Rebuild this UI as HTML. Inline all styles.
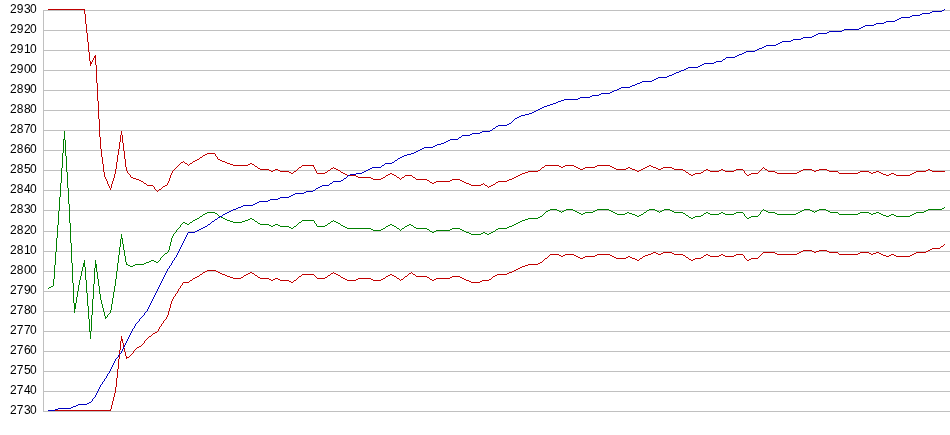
<!DOCTYPE html>
<html><head><meta charset="utf-8"><title>chart</title>
<style>
html,body{margin:0;padding:0;background:#fff;}
svg{display:block;}
text{font-family:"Liberation Sans",sans-serif;font-size:12px;fill:#000;letter-spacing:0px;}
path{fill:none;stroke-width:1;shape-rendering:crispEdges;}
</style></head><body>
<svg width="950" height="435" viewBox="0 0 950 435">
<rect width="950" height="435" fill="#fff"/>
<path stroke="#c0c0c0" d="M43 10.5H950M43 30.5H950M43 50.5H950M43 70.5H950M43 90.5H950M43 110.5H950M43 130.5H950M43 150.5H950M43 170.5H950M43 190.5H950M43 210.5H950M43 231.5H950M43 251.5H950M43 271.5H950M43 291.5H950M43 311.5H950M43 331.5H950M43 351.5H950M43 371.5H950M43 391.5H950M43 411.5H950M43.5 10V412"/>
<g style="filter:grayscale(1)"><text x="10.0 16.8 23.9 30.0" y="13.4">2930</text><text x="10.0 16.8 23.9 30.0" y="33.4">2920</text><text x="10.0 16.8 23.9 30.0" y="53.4">2910</text><text x="10.0 16.8 23.9 30.0" y="73.4">2900</text><text x="10.0 16.8 23.9 30.0" y="93.4">2890</text><text x="10.0 16.8 23.9 30.0" y="113.4">2880</text><text x="10.0 16.8 23.9 30.0" y="133.4">2870</text><text x="10.0 16.8 23.9 30.0" y="153.4">2860</text><text x="10.0 16.8 23.9 30.0" y="173.4">2850</text><text x="10.0 16.8 23.9 30.0" y="193.4">2840</text><text x="10.0 16.8 23.9 30.0" y="213.4">2830</text><text x="10.0 16.8 23.9 30.0" y="234.4">2820</text><text x="10.0 16.8 23.9 30.0" y="254.4">2810</text><text x="10.0 16.8 23.9 30.0" y="274.4">2800</text><text x="10.0 16.8 23.9 30.0" y="294.4">2790</text><text x="10.0 16.8 23.9 30.0" y="314.4">2780</text><text x="10.0 16.8 23.9 30.0" y="334.4">2770</text><text x="10.0 16.8 23.9 30.0" y="354.4">2760</text><text x="10.0 16.8 23.9 30.0" y="374.4">2750</text><text x="10.0 16.8 23.9 30.0" y="394.4">2740</text><text x="10.0 16.8 23.9 30.0" y="414.4">2730</text></g>
<path stroke="#008000" d="M200 216.5h2M219 216.5h2M540 216.5h2M637 216.5h2M695 216.5h6M751 216.5h7M886 216.5h3M896 216.5h14M430 231.5h2M434 231.5h2M464 231.5h2M493 231.5h2M207 212.5h8M577 212.5h2M585 212.5h8M613 212.5h2M627 212.5h2M644 212.5h2M674 212.5h9M706 212.5h2M721 212.5h2M736 212.5h7M768 212.5h7M798 212.5h2M830 212.5h8M860 212.5h9M876 212.5h3M916 212.5h8M635 215.5h2M639 215.5h2M686 215.5h2M701 215.5h2M883 215.5h3M889 215.5h2M894 215.5h2M910 215.5h2M471 234.5h10M487 234.5h2M230 221.5h3M242 221.5h3M255 221.5h2M331 221.5h2M334 221.5h2M520 221.5h2M193 220.5h2M227 220.5h3M245 220.5h3M302 220.5h12M522 220.5h3M149 261.5h2M154 261.5h2M546 211.5h2M559 211.5h2M562 211.5h2M575 211.5h2M593 211.5h2M611 211.5h2M657 211.5h2M660 211.5h2M672 211.5h2M766 211.5h2M800 211.5h2M812 211.5h2M815 211.5h2M828 211.5h2M924 211.5h2M291 228.5h2M347 228.5h24M383 228.5h2M397 228.5h2M402 228.5h2M416 228.5h11M452 228.5h8M498 228.5h9M203 214.5h2M581 214.5h2M617 214.5h8M632 214.5h3M641 214.5h2M710 214.5h9M725 214.5h9M777 214.5h19M839 214.5h19M871 214.5h2M881 214.5h2M891 214.5h3M912 214.5h2M49 287.5h2M187 224.5h2M260 224.5h9M275 224.5h3M390 224.5h2M409 224.5h2M514 224.5h2M550 209.5h7M566 209.5h7M597 209.5h12M649 209.5h6M664 209.5h6M804 209.5h6M819 209.5h7M928 209.5h14M432 232.5h2M466 232.5h3M483 232.5h2M491 232.5h2M548 210.5h2M557 210.5h2M564 210.5h2M573 210.5h2M595 210.5h2M609 210.5h2M647 210.5h2M655 210.5h2M662 210.5h2M670 210.5h2M764 210.5h2M802 210.5h2M810 210.5h2M817 210.5h2M826 210.5h2M926 210.5h2M205 213.5h2M215 213.5h2M579 213.5h2M583 213.5h2M615 213.5h2M625 213.5h2M629 213.5h3M683 213.5h2M704 213.5h2M708 213.5h2M719 213.5h2M723 213.5h2M734 213.5h2M775 213.5h2M796 213.5h2M858 213.5h2M869 213.5h2M873 213.5h3M879 213.5h2M914 213.5h2M83 265.5h2M95 265.5h2M128 265.5h2M133 265.5h2M289 227.5h2M345 227.5h2M414 227.5h2M507 227.5h2M74 307.5h2M195 219.5h2M225 219.5h2M248 219.5h2M252 219.5h2M525 219.5h3M197 218.5h2M223 218.5h2M250 218.5h2M528 218.5h10M691 218.5h2M747 218.5h2M373 230.5h8M436 230.5h14M462 230.5h2M83 264.5h2M95 264.5h2M126 264.5h2M135 264.5h9M271 226.5h2M280 226.5h9M294 226.5h2M317 226.5h8M343 226.5h2M386 226.5h2M394 226.5h2M405 226.5h2M509 226.5h3M269 225.5h2M273 225.5h2M278 225.5h2M325 225.5h2M341 225.5h2M388 225.5h2M392 225.5h2M407 225.5h2M411 225.5h2M512 225.5h2M63 139.5h2M105 317.5h2M151 260.5h3M51 286.5h2M146 262.5h3M156 262.5h2M183 222.5h2M190 222.5h2M233 222.5h9M299 222.5h2M336 222.5h2M518 222.5h2M89 331.5h2M221 217.5h2M538 217.5h2M689 217.5h2M693 217.5h2M749 217.5h2M74 306.5h2M95 267.5h2M121 238.5h2M469 233.5h2M481 233.5h2M485 233.5h2M489 233.5h2M185 223.5h2M258 223.5h2M328 223.5h2M338 223.5h2M516 223.5h2M165 253.5h2M371 229.5h2M381 229.5h2M427 229.5h2M450 229.5h2M460 229.5h2M496 229.5h2M74 305.5h2M74 308.5h2M74 304.5h2M74 303.5h2M942 208.5h2M83 263.5h2M144 263.5h2M83 266.5h2M95 266.5h2M130 266.5h3M64.5 131v8M98.5 279v7M79.5 280v5M176.5 230v2M179.5 227v1M89.5 319v12M125.5 256v6M122.5 239v5M94.5 268v16M65.5 140v16M67.5 172v16M84.5 260v3M95.5 260v4M72.5 263v20M297.5 224v1M495.5 230v1M59.5 197v14M57.5 225v13M53.5 279v7M814.5 212v1M118.5 255v8M86.5 280v13M58.5 211v14M69.5 204v19M301.5 221v1M113.5 292v6M659.5 212v1M101.5 300v4M104.5 312v4M56.5 238v14M63.5 140v13M171.5 238v4M117.5 263v8M163.5 255v1M78.5 285v6M66.5 156v16M112.5 298v6M170.5 242v4M93.5 284v15M760.5 212v2M643.5 213v1M121.5 234v4M74.5 309v4M97.5 272v7M108.5 314v1M71.5 243v20M82.5 267v4M111.5 304v6M92.5 299v16M167.5 252v1M116.5 271v8M399.5 229v1M685.5 214v1M62.5 153v15M88.5 306v13M115.5 279v7M73.5 283v20M68.5 188v16M120.5 239v8M85.5 267v13M55.5 252v13M77.5 291v6M100.5 294v6M124.5 250v6M296.5 225v1M61.5 168v15M543.5 214v1M178.5 228v1M54.5 265v14M91.5 315v16M169.5 246v4M103.5 308v4M561.5 212v1M70.5 223v20M173.5 234v2M76.5 297v6M107.5 315v2M81.5 271v5M189.5 223v1M87.5 293v13M181.5 224v1M330.5 222v1M99.5 286v8M60.5 183v14M162.5 256v1M123.5 244v6M314.5 221v2M90.5 332v7M110.5 310v3M114.5 286v6M160.5 258v2M96.5 268v4M759.5 214v1M119.5 247v8M762.5 210v1M80.5 276v4M172.5 236v2M298.5 223v1M385.5 227v1M545.5 212v1M400.5 230v1M102.5 304v4M340.5 224v1M404.5 227v1M105.5 316v1M105.5 318v1M257.5 222v1M838.5 213v1M199.5 217v1M164.5 254v1M180.5 225v2M168.5 250v2M126.5 262v2M175.5 232v1M396.5 227v1M218.5 215v1M293.5 227v1M159.5 260v1M316.5 224v2M761.5 211v1M544.5 213v1M217.5 214v1M646.5 211v1M48.5 288v1M315.5 223v1M327.5 224v1M703.5 214v1M744.5 214v2M745.5 216v1M202.5 215v1M182.5 223v1M542.5 215v1M174.5 233v1M688.5 216v1M177.5 229v1M429.5 230v1M158.5 261v1M254.5 220v1M161.5 257v1M333.5 220v1M743.5 213v1M763.5 209v1M758.5 215v1M413.5 226v1M944.5 207v1M401.5 229v1M109.5 313v1M192.5 221v1M746.5 217v1"/>
<path stroke="#c00000" d="M347 175.5h9M386 175.5h2M394 175.5h2M405 175.5h7M518 175.5h2M691 175.5h2M747 175.5h2M886 175.5h3M896 175.5h14M258 168.5h2M331 168.5h2M334 168.5h2M578 168.5h2M583 168.5h2M614 168.5h2M626 168.5h2M630 168.5h2M643 168.5h2M656 168.5h2M661 168.5h2M672 168.5h2M260 169.5h9M275 169.5h3M336 169.5h2M580 169.5h3M616 169.5h10M632 169.5h3M641 169.5h2M658 169.5h3M674 169.5h9M706 169.5h2M721 169.5h2M736 169.5h7M765 169.5h2M803 169.5h9M819 169.5h8M928 169.5h2M197 159.5h2M218 159.5h2M271 171.5h2M280 171.5h9M294 171.5h2M528 171.5h10M637 171.5h2M710 171.5h9M725 171.5h9M768 171.5h7M799 171.5h2M814 171.5h2M829 171.5h9M860 171.5h9M876 171.5h3M916 171.5h10M932 171.5h13M200 157.5h2M230 164.5h3M248 164.5h2M252 164.5h2M269 170.5h2M273 170.5h2M278 170.5h2M328 170.5h2M338 170.5h2M538 170.5h2M635 170.5h2M639 170.5h2M683 170.5h2M704 170.5h2M708 170.5h2M719 170.5h2M723 170.5h2M734 170.5h2M801 170.5h2M812 170.5h2M816 170.5h3M827 170.5h2M926 170.5h2M930 170.5h2M147 185.5h6M165 185.5h2M471 185.5h10M485 185.5h2M491 185.5h2M233 165.5h15M302 165.5h12M545 165.5h14M565 165.5h9M597 165.5h13M649 165.5h2M430 182.5h2M434 182.5h2M464 182.5h2M496 182.5h2M207 153.5h8M133 178.5h3M371 178.5h2M381 178.5h2M512 178.5h2M163 186.5h2M489 186.5h2M345 174.5h2M388 174.5h2M392 174.5h2M520 174.5h2M689 174.5h2M693 174.5h2M749 174.5h2M883 174.5h3M889 174.5h2M894 174.5h2M910 174.5h2M205 154.5h2M144 183.5h2M432 183.5h2M466 183.5h3M136 179.5h3M373 179.5h8M416 179.5h11M452 179.5h8M509 179.5h3M141 181.5h2M436 181.5h14M462 181.5h2M498 181.5h9M289 172.5h2M325 172.5h2M341 172.5h2M525 172.5h3M686 172.5h2M701 172.5h2M775 172.5h2M797 172.5h2M858 172.5h2M869 172.5h2M873 172.5h3M879 172.5h2M914 172.5h2M291 173.5h2M317 173.5h8M343 173.5h2M390 173.5h2M522 173.5h3M695 173.5h6M751 173.5h7M777 173.5h20M839 173.5h19M871 173.5h2M881 173.5h2M891 173.5h3M912 173.5h2M299 167.5h2M542 167.5h2M561 167.5h2M576 167.5h2M585 167.5h10M612 167.5h2M628 167.5h2M645 167.5h2M653 167.5h3M663 167.5h9M48 9.5h37M255 166.5h2M559 166.5h2M563 166.5h2M574 166.5h2M595 166.5h2M610 166.5h2M647 166.5h2M651 166.5h2M185 163.5h2M190 163.5h2M227 163.5h3M250 163.5h2M131 177.5h2M358 177.5h13M383 177.5h2M397 177.5h2M402 177.5h2M413 177.5h2M514 177.5h2M193 161.5h2M222 161.5h3M469 184.5h2M481 184.5h2M493 184.5h2M159 189.5h2M139 180.5h2M427 180.5h2M450 180.5h2M460 180.5h2M507 180.5h2M203 155.5h2M356 176.5h2M516 176.5h2M181 162.5h2M225 162.5h2M195 160.5h2M220 160.5h2M90 62.5h2M90 63.5h2M94 57.5h2M94 56.5h2M89.5 52v9M314.5 167v2M127.5 171v2M189.5 164v1M108.5 184v2M99.5 119v18M121.5 131v4M401.5 178v1M340.5 171v1M84.5 10v4M109.5 186v2M101.5 149v8M173.5 170v1M86.5 24v9M743.5 170v1M96.5 65v18M116.5 162v7M158.5 190v1M117.5 155v7M758.5 172v1M154.5 187v2M112.5 181v3M146.5 184v1M124.5 151v8M92.5 60v2M120.5 135v7M484.5 184v1M111.5 184v4M104.5 172v5M115.5 169v5M177.5 166v1M98.5 101v18M172.5 171v2M298.5 168v1M153.5 186v1M199.5 158v1M180.5 163v1M746.5 174v1M495.5 183v1M412.5 176v1M169.5 178v3M85.5 14v10M123.5 143v8M88.5 42v10M385.5 176v1M313.5 166v1M126.5 167v4M400.5 179v1M130.5 175v2M107.5 181v3M119.5 142v7M95.5 55v1M95.5 58v7M764.5 168v1M541.5 168v1M316.5 171v2M327.5 171v1M100.5 137v12M175.5 168v1M688.5 173v1M103.5 164v8M97.5 83v18M114.5 174v4M156.5 190v1M106.5 179v2M118.5 149v6M760.5 170v1M87.5 33v9M187.5 164v1M396.5 176v1M293.5 172v1M315.5 169v2M125.5 159v8M122.5 135v8M179.5 164v1M90.5 61v1M90.5 64v2M171.5 173v2M113.5 178v3M102.5 157v7M155.5 189v1M429.5 181v1M170.5 175v3M202.5 156v1M183.5 161v1M333.5 167v1M162.5 187v1M143.5 182v1M762.5 168v1M838.5 172v1M105.5 177v2M93.5 58v2M257.5 167v1M174.5 169v1M404.5 176v1M759.5 171v1M215.5 154v2M216.5 156v1M168.5 181v2M157.5 191v1M161.5 188v1M188.5 165v1M192.5 162v1M685.5 171v1M487.5 186v1M488.5 187v1M184.5 162v1M761.5 169v1M540.5 169v1M176.5 167v1M544.5 166v1M483.5 183v1M297.5 169v1M217.5 157v2M301.5 166v1M110.5 188v2M415.5 178v1M167.5 183v2M767.5 170v1M703.5 171v1M744.5 171v2M254.5 165v1M745.5 173v1M330.5 169v1M178.5 165v1M128.5 173v1M399.5 178v1M129.5 174v1M763.5 167v1M296.5 170v1"/>
<path stroke="#c00000" d="M200 274.5h2M222 274.5h3M246 274.5h2M302 274.5h12M336 274.5h2M390 274.5h2M413 274.5h2M497 274.5h10M48 410.5h63M653 252.5h3M663 252.5h9M763 252.5h12M799 252.5h2M814 252.5h2M829 252.5h9M860 252.5h9M876 252.5h3M916 252.5h10M545 258.5h2M580 258.5h3M616 258.5h10M632 258.5h3M640 258.5h2M695 258.5h6M751 258.5h7M190 280.5h2M271 280.5h2M280 280.5h9M294 280.5h2M347 280.5h9M373 280.5h8M432 280.5h2M466 280.5h3M482 280.5h7M550 254.5h9M565 254.5h9M597 254.5h13M648 254.5h3M658 254.5h3M674 254.5h9M706 254.5h2M721 254.5h2M736 254.5h7M777 254.5h20M839 254.5h19M871 254.5h2M881 254.5h2M891 254.5h3M912 254.5h2M197 276.5h2M227 276.5h3M299 276.5h2M386 276.5h2M394 276.5h2M405 276.5h2M416 276.5h11M452 276.5h8M493 276.5h2M193 278.5h2M233 278.5h8M260 278.5h9M275 278.5h3M317 278.5h8M343 278.5h2M358 278.5h13M383 278.5h2M397 278.5h2M436 278.5h14M462 278.5h2M930 249.5h2M561 256.5h2M576 256.5h2M585 256.5h10M612 256.5h2M628 256.5h2M643 256.5h2M710 256.5h9M725 256.5h9M886 256.5h3M896 256.5h14M803 250.5h9M819 250.5h8M928 250.5h2M220 273.5h2M248 273.5h2M252 273.5h2M331 273.5h2M334 273.5h2M409 273.5h2M507 273.5h2M183 282.5h6M291 282.5h2M471 282.5h9M522 266.5h3M651 253.5h2M656 253.5h2M661 253.5h2M672 253.5h2M775 253.5h2M797 253.5h2M858 253.5h2M869 253.5h2M873 253.5h3M879 253.5h2M914 253.5h2M559 255.5h2M563 255.5h2M574 255.5h2M595 255.5h2M610 255.5h2M645 255.5h3M683 255.5h2M704 255.5h2M708 255.5h2M719 255.5h2M723 255.5h2M734 255.5h2M883 255.5h3M889 255.5h2M894 255.5h2M910 255.5h2M207 270.5h9M514 270.5h2M195 277.5h2M230 277.5h3M241 277.5h2M258 277.5h2M325 277.5h2M341 277.5h2M427 277.5h2M450 277.5h2M460 277.5h2M205 271.5h2M216 271.5h2M512 271.5h2M932 248.5h8M225 275.5h2M244 275.5h2M255 275.5h2M328 275.5h2M338 275.5h2M388 275.5h2M392 275.5h2M495 275.5h2M289 281.5h2M469 281.5h2M480 281.5h2M269 279.5h2M273 279.5h2M278 279.5h2M345 279.5h2M356 279.5h2M371 279.5h2M381 279.5h2M401 279.5h2M430 279.5h2M434 279.5h2M464 279.5h2M489 279.5h2M578 257.5h2M583 257.5h2M614 257.5h2M626 257.5h2M630 257.5h2M686 257.5h2M701 257.5h2M801 251.5h2M812 251.5h2M816 251.5h3M827 251.5h2M926 251.5h2M137 347.5h2M637 260.5h2M691 260.5h2M747 260.5h2M538 263.5h2M528 264.5h10M121 340.5h2M203 272.5h2M218 272.5h2M250 272.5h2M509 272.5h3M525 265.5h3M941 246.5h2M635 259.5h2M689 259.5h2M693 259.5h2M749 259.5h2M126 357.5h3M149 336.5h2M518 268.5h2M520 267.5h2M155 332.5h2M516 269.5h2M153 333.5h2M121 339.5h2M139 346.5h2M540 262.5h2M547.5 257v1M115.5 387v6M166.5 317v2M758.5 257v1M123.5 343v5M112.5 401v4M118.5 359v10M116.5 378v9M144.5 341v2M162.5 323v1M164.5 320v1M119.5 350v9M165.5 319v1M133.5 351v2M134.5 350v1M170.5 304v4M163.5 321v2M169.5 308v3M117.5 369v9M122.5 341v2M159.5 327v2M129.5 356v1M130.5 355v1M161.5 324v2M173.5 297v2M408.5 274v1M120.5 341v9M111.5 405v4M121.5 336v3M429.5 278v1M407.5 275v1M114.5 393v4M171.5 301v3M940.5 247v1M296.5 279v1M157.5 331v1M148.5 337v1M314.5 275v1M180.5 286v2M943.5 245v1M944.5 244v1M396.5 277v1M412.5 273v1M113.5 397v4M838.5 253v1M178.5 289v2M315.5 276v1M147.5 338v1M179.5 288v1M152.5 334v1M199.5 275v1M143.5 343v1M151.5 335v1M124.5 348v4M744.5 256v2M257.5 276v1M491.5 278v1M492.5 277v1M142.5 344v1M745.5 258v1M174.5 296v1M175.5 294v2M177.5 291v2M639.5 259v1M685.5 256v1M544.5 259v1M126.5 356v1M126.5 358v1M297.5 278v1M411.5 272v1M642.5 257v1M125.5 352v4M243.5 276v1M301.5 275v1M746.5 259v1M181.5 285v1M330.5 274v1M182.5 283v2M168.5 311v4M192.5 279v1M158.5 329v2M160.5 326v1M172.5 299v2M167.5 315v2M316.5 277v1M333.5 272v1M202.5 273v1M145.5 340v1M146.5 339v1M703.5 256v1M293.5 281v1M141.5 345v1M761.5 254v1M762.5 253v1M548.5 256v1M549.5 255v1M543.5 260v1M399.5 279v1M415.5 275v1M135.5 349v1M542.5 261v1M385.5 277v1M131.5 354v1M132.5 353v1M400.5 280v1M403.5 278v1M404.5 277v1M298.5 277v1M254.5 274v1M688.5 258v1M110.5 409v1M327.5 276v1M743.5 255v1M189.5 281v1M176.5 293v1M340.5 276v1M136.5 348v1M759.5 256v1M760.5 255v1"/>
<path stroke="#0000c0" d="M578 98.5h2M640 82.5h2M812 36.5h2M270 199.5h8M205 226.5h2M344 178.5h2M621 87.5h9M398 158.5h2M726 57.5h9M536 110.5h2M778 43.5h2M759 48.5h3M229 211.5h2M385 163.5h7M78 404.5h9M316 188.5h2M370 168.5h2M348 175.5h2M561 100.5h3M803 37.5h9M642 81.5h10M766 45.5h10M532 112.5h2M755 50.5h2M601 93.5h9M58 408.5h13M459 137.5h2M236 208.5h2M829 31.5h13M540 108.5h2M472 133.5h8M793 39.5h8M350 174.5h6M407 154.5h4M580 97.5h10M498 125.5h9M746 51.5h9M865 25.5h9M418 150.5h2M259 201.5h9M48 410.5h7M241 206.5h2M372 167.5h9M462 135.5h8M844 29.5h15M564 99.5h14M742 53.5h2M899 18.5h2M424 147.5h9M482 131.5h8M700 65.5h2M876 23.5h8M676 72.5h3M306 191.5h7M658 77.5h9M635 84.5h2M201 228.5h2M617 89.5h2M558 101.5h3M448 140.5h2M225 213.5h2M922 13.5h8M313 190.5h2M366 170.5h2M197 230.5h2M704 63.5h10M886 21.5h9M525 114.5h4M255 203.5h2M450 139.5h8M231 210.5h2M293 194.5h2M782 41.5h9M912 15.5h8M932 11.5h10M757 49.5h2M295 193.5h9M547 105.5h3M480 132.5h2M630 86.5h2M322 185.5h7M895 20.5h2M280 197.5h9M420 149.5h2M688 67.5h10M243 205.5h10M592 95.5h7M509 123.5h2M654 79.5h2M416 151.5h2M444 142.5h2M553 103.5h3M702 64.5h2M330 183.5h2M521 115.5h4M362 172.5h2M684 69.5h2M188 232.5h7M814 35.5h2M619 88.5h2M780 42.5h2M227 212.5h2M289 196.5h2M496 126.5h2M614 90.5h3M776 44.5h2M223 214.5h2M818 33.5h9M404 155.5h3M542 107.5h2M669 75.5h3M437 144.5h4M538 109.5h2M842 30.5h2M238 207.5h3M739 54.5h3M356 173.5h6M411 153.5h3M901 17.5h9M698 66.5h2M435 145.5h2M679 71.5h2M89 402.5h2M656 78.5h2M55 409.5h3M637 83.5h3M203 227.5h2M863 26.5h2M215 219.5h2M493 128.5h2M364 171.5h2M652 80.5h2M208 224.5h2M632 85.5h3M610 92.5h2M333 181.5h8M529 113.5h3M220 216.5h2M422 148.5h2M910 16.5h2M400 157.5h2M392 162.5h2M257 202.5h2M320 186.5h2M233 209.5h3M278 198.5h2M716 61.5h6M897 19.5h2M764 46.5h2M304 192.5h2M507 124.5h2M550 104.5h3M199 229.5h2M519 116.5h2M859 28.5h2M446 141.5h2M76 405.5h2M212 221.5h2M195 231.5h2M441 143.5h3M291 195.5h2M556 102.5h2M791 40.5h2M686 68.5h2M816 34.5h2M253 204.5h2M402 156.5h2M874 24.5h2M599 94.5h2M737 55.5h2M544 106.5h3M667 76.5h2M414 152.5h2M515 118.5h2M920 14.5h2M861 27.5h2M268 200.5h2M681 70.5h3M612 91.5h2M73 406.5h3M218 217.5h2M942 10.5h2M341 180.5h2M395 160.5h2M714 62.5h2M762 47.5h2M433 146.5h2M87 403.5h2M744 52.5h2M674 73.5h2M318 187.5h2M801 38.5h2M930 12.5h2M517 117.5h2M827 32.5h2M884 22.5h2M590 96.5h2M368 169.5h2M534 111.5h2M490 130.5h2M735 56.5h2M723 59.5h2M382 165.5h2M71 407.5h2M470 134.5h2M672 74.5h2M129.5 335v2M158.5 287v2M944.5 9v1M103.5 381v1M492.5 129v1M160.5 283v2M106.5 376v2M174.5 258v2M175.5 257v1M177.5 253v2M123.5 347v2M181.5 245v2M95.5 395v2M97.5 391v2M113.5 363v2M210.5 223v1M155.5 293v2M157.5 289v2M165.5 273v2M458.5 138v1M151.5 301v2M121.5 351v2M187.5 233v2M156.5 291v2M171.5 263v2M117.5 357v1M119.5 354v1M384.5 164v1M120.5 353v1M163.5 277v2M126.5 341v2M109.5 371v2M111.5 367v2M167.5 269v2M169.5 266v2M170.5 265v1M172.5 261v2M461.5 136v1M116.5 358v1M118.5 355v2M149.5 305v2M154.5 295v2M133.5 328v1M134.5 326v2M135.5 324v2M185.5 237v2M184.5 239v2M99.5 387v2M329.5 184v1M124.5 345v2M132.5 329v2M722.5 60v1M211.5 222v1M159.5 285v2M161.5 281v2M105.5 378v1M107.5 374v2M166.5 271v2M495.5 127v1M112.5 365v2M114.5 361v2M183.5 241v2M214.5 220v1M152.5 299v2M150.5 303v2M130.5 333v2M131.5 331v2M104.5 379v2M343.5 179v1M143.5 315v1M397.5 159v1M144.5 313v2M222.5 215v1M182.5 243v2M122.5 349v2M346.5 177v1M315.5 189v1M162.5 279v2M164.5 275v2M110.5 369v2M139.5 319v2M180.5 247v2M148.5 307v2M128.5 337v2M186.5 235v2M100.5 385v2M102.5 382v2M91.5 401v1M92.5 399v2M94.5 397v1M179.5 249v2M127.5 339v2M101.5 384v1M332.5 182v1M381.5 166v1M176.5 255v2M178.5 251v2M147.5 309v2M125.5 343v2M98.5 389v2M725.5 58v1M96.5 393v2M347.5 176v1M108.5 373v1M168.5 268v1M146.5 311v1M115.5 359v2M153.5 297v2M142.5 316v1M217.5 218v1M138.5 321v1M140.5 318v1M173.5 260v1M93.5 398v1M136.5 323v1M137.5 322v1M514.5 119v1M512.5 121v1M513.5 120v1M145.5 312v1M511.5 122v1M141.5 317v1M207.5 225v1M394.5 161v1"/>
</svg>
</body></html>
